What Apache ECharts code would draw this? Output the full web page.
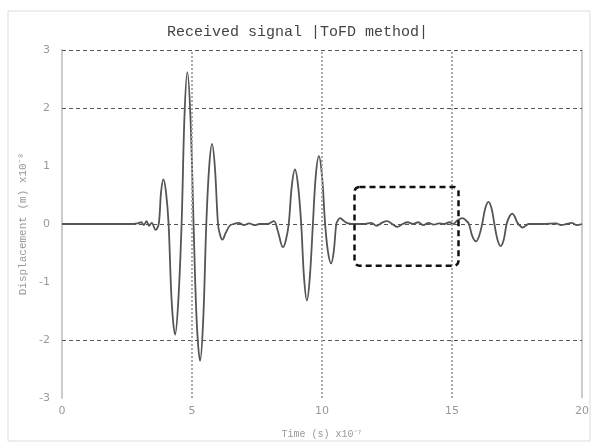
<!DOCTYPE html>
<html>
<head>
<meta charset="utf-8">
<script src="https://cdn.jsdelivr.net/npm/echarts@6/dist/echarts.min.js"></script>
<style>html,body{margin:0;padding:0;background:#fff;}#c{width:595px;height:444px;}</style>
</head>
<body>
<div id="c"></div>
<script>
// Time (x10^-7 s)
const timeVals = [0, 1.0, 2.0, 2.6, 2.9, 3.05, 3.15, 3.25, 3.35, 3.45, 3.6, 3.72, 3.81, 3.9, 4.0, 4.1, 4.22, 4.35, 4.47, 4.6, 4.71, 4.82, 4.94, 5.06, 5.18, 5.31, 5.43, 5.55, 5.66, 5.77, 5.88, 6.0, 6.08, 6.17, 6.3, 6.45, 6.6, 6.8, 7.0, 7.2, 7.4, 7.6, 7.9, 8.15, 8.3, 8.5, 8.61, 8.72, 8.84, 8.96, 9.08, 9.2, 9.31, 9.42, 9.53, 9.65, 9.76, 9.88, 10.0, 10.12, 10.23, 10.35, 10.45, 10.55, 10.62, 10.7, 10.8, 10.95, 11.2, 11.6, 11.9, 12.1, 12.3, 12.5, 12.7, 12.9, 13.1, 13.3, 13.5, 13.7, 13.9, 14.1, 14.3, 14.5, 14.7, 14.9, 15.05, 15.2, 15.4, 15.52, 15.65, 15.78, 15.92, 16.04, 16.16, 16.28, 16.4, 16.52, 16.63, 16.75, 16.87, 16.99, 17.1, 17.21, 17.32, 17.42, 17.52, 17.72, 17.95, 18.5, 19.0, 19.2, 19.4, 19.6, 19.8, 20.0];
// Displacement (x10^-8 m)
const dispVals = [0, 0, 0, 0, 0.01, 0.03, -0.02, 0.05, -0.03, 0.02, -0.1, 0, 0.55, 0.77, 0.55, 0, -1.35, -1.91, -1.35, 0, 1.85, 2.62, 1.85, 0, -1.67, -2.36, -1.67, 0, 0.98, 1.38, 0.98, 0, -0.19, -0.27, -0.15, -0.03, 0, 0.02, -0.02, 0.01, -0.02, 0, 0, 0.05, -0.12, -0.4, -0.28, 0, 0.66, 0.94, 0.66, 0, -0.93, -1.32, -0.93, 0, 0.83, 1.17, 0.83, 0, -0.48, -0.68, -0.48, 0, 0.07, 0.1, 0.07, 0.02, 0, 0, 0.02, -0.03, 0.02, 0.05, 0, -0.05, 0, 0.03, 0, 0.03, -0.02, 0.02, -0.01, 0.01, 0, 0.03, 0, 0.06, 0.1, 0.07, 0, -0.21, -0.3, -0.21, 0, 0.27, 0.38, 0.27, 0, -0.27, -0.38, -0.27, 0, 0.13, 0.18, 0.12, 0.02, -0.06, 0, 0, 0.01, -0.02, 0, 0.02, -0.02, 0];
const xTicks = [0, 5, 10, 15, 20];
const yTicks = [-3, -2, -1, 0, 1, 2, 3];
const hGridVals = [3, 2, 0, -2];
const vGridVals = [5, 10, 15];
// highlighted region [tStart, tEnd, yMin, yMax]
const boxRegion = [11.25, 15.25, -0.72, 0.64];

const chart = echarts.init(document.getElementById('c'));
const seriesData = timeVals.map((t, i) => [t, dispVals[i]]);
const mono = 'Liberation Mono';

chart.setOption({
  animation: false,
  title: {
    text: 'Received signal |ToFD method|',
    left: 'center',
    top: 20,
    textStyle: { fontFamily: mono, fontSize: 15, fontWeight: 'normal', color: '#444' }
  },
  grid: { left: 62, right: 13, top: 50, bottom: 43 },
  xAxis: {
    type: 'value', min: 0, max: 20, interval: 5,
    name: 'Time (s) x10\u207B\u2077', nameLocation: 'middle', nameGap: 31,
    nameTextStyle: { fontFamily: mono, fontSize: 10, color: '#999' },
    axisLine: { show: false }, axisTick: { show: false }, splitLine: { show: false },
    axisLabel: { color: '#999', fontSize: 11, fontFamily: 'DejaVu Sans', margin: 8 }
  },
  yAxis: {
    type: 'value', min: -3, max: 3, interval: 1,
    name: 'Displacement (m) x10\u207B\u2078', nameLocation: 'middle', nameGap: 30,
    nameTextStyle: { fontFamily: mono, fontSize: 11, color: '#999' },
    axisLine: { show: true, lineStyle: { color: '#ccc', width: 2 } },
    axisTick: { show: false }, splitLine: { show: false },
    axisLabel: { color: '#999', fontSize: 11, fontFamily: 'DejaVu Sans', margin: 12 }
  },
  series: [{
    type: 'line',
    data: seriesData,
    smooth: 0.35,
    symbol: 'none',
    lineStyle: { color: '#555', width: 1.8 },
    markLine: {
      silent: true, symbol: 'none', label: { show: false }, animation: false,
      data: hGridVals.map(v => ({ yAxis: v, lineStyle: { color: '#555', type: [4, 3], width: 1 } }))
        .concat(vGridVals.map(v => ({ xAxis: v, lineStyle: { color: '#aaa', type: [2, 2], width: 2 } })))
    }
  }]
});

function drawOverlay() {
  const p1 = chart.convertToPixel({ gridIndex: 0 }, [boxRegion[0], boxRegion[3]]);
  const p2 = chart.convertToPixel({ gridIndex: 0 }, [boxRegion[1], boxRegion[2]]);
  const pr = chart.convertToPixel({ gridIndex: 0 }, [20, 3]);
  const pb = chart.convertToPixel({ gridIndex: 0 }, [20, -3]);
  chart.setOption({
    graphic: [
      { type: 'rect', silent: true, shape: { x: 8, y: 11, width: 582, height: 430 },
        style: { fill: 'none', stroke: '#ddd', lineWidth: 1 } },
      { type: 'line', silent: true, shape: { x1: pr[0], y1: pr[1], x2: pb[0], y2: pb[1] },
        style: { stroke: '#ccc', lineWidth: 2 } },
      { type: 'rect', silent: true, z: 100,
        shape: { x: p1[0], y: p1[1], width: p2[0] - p1[0], height: p2[1] - p1[1], r: 5 },
        style: { fill: 'none', stroke: '#111', lineWidth: 2.5, lineDash: [6, 4] } }
    ]
  });
}
drawOverlay();
</script>
</body>
</html>
